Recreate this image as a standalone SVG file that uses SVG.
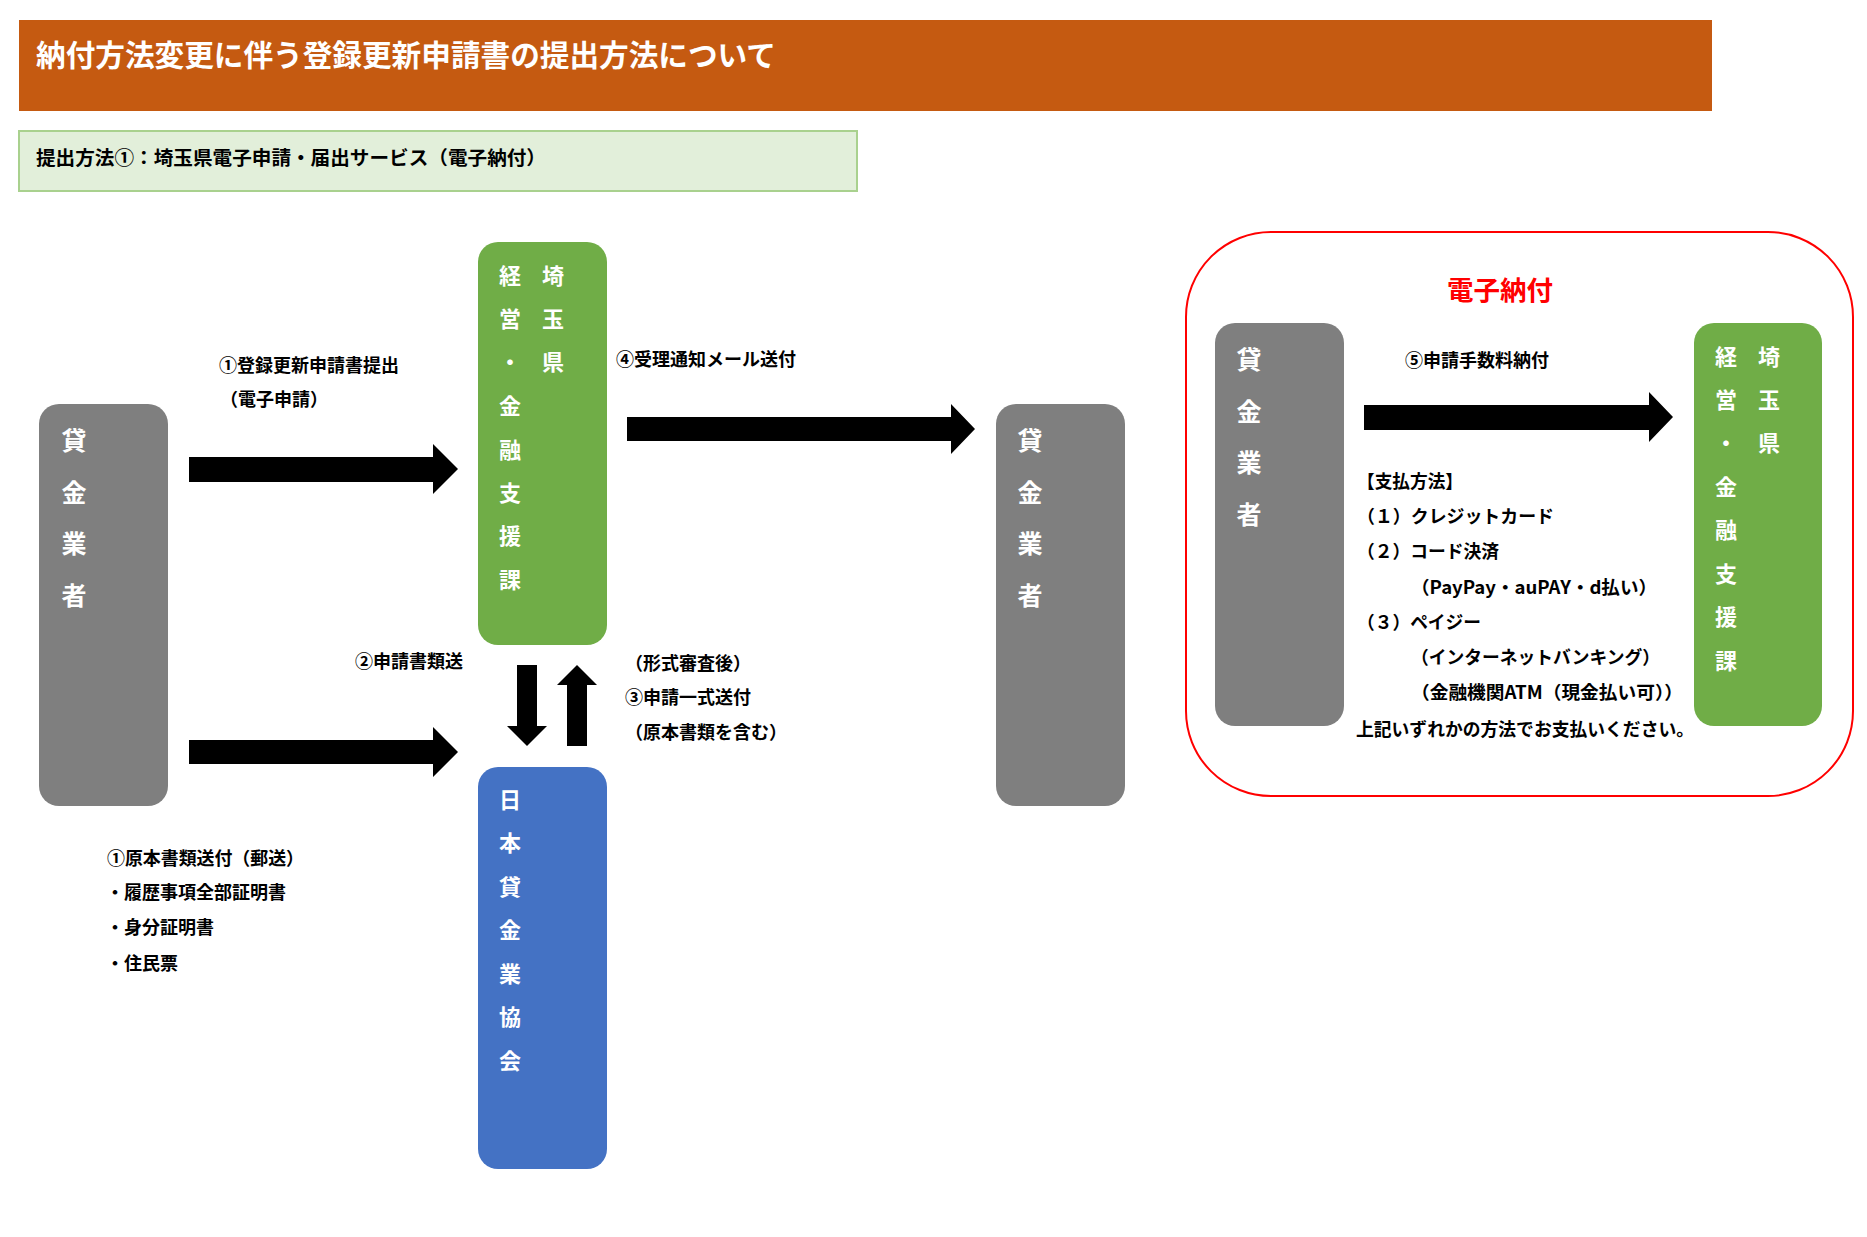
<svg xmlns="http://www.w3.org/2000/svg" width="1867" height="1237" viewBox="0 0 1867 1237">
<style>
text{font-family:"Noto Sans CJK JP","Noto Sans",sans-serif;font-weight:700;dominant-baseline:central}
.lbl{font-size:18px;fill:#000}
.nt{fill:#fff;text-anchor:middle}
.g{font-size:25px}
.s{font-size:22px}
.gray{fill:#7F7F7F}
.green{fill:#70AD47}
.blue{fill:#4472C4}
.arrow{fill:#000}
</style>
<rect width="1867" height="1237" fill="#fff"/>
<g id="title">
<rect x="19" y="20" width="1693" height="91" fill="#C55A11"/>
<text x="36" y="53" style="font-size:30px;fill:#fff" textLength="740" lengthAdjust="spacingAndGlyphs">納付方法変更に伴う登録更新申請書の提出方法について</text>
</g>
<g id="method-header">
<rect x="19" y="131" width="838" height="60" fill="#E2EFDA" stroke="#A9D18E" stroke-width="2"/>
<text x="36" y="156" style="font-size:19px;fill:#000" textLength="510" lengthAdjust="spacingAndGlyphs">提出方法①：埼玉県電子申請・届出サービス（電子納付）</text>
</g>
<g id="node-kashikin-1">
<rect class="gray" x="39" y="404" width="129" height="402" rx="20"/>
<text class="nt g" x="74" y="439">貸</text><text class="nt g" x="74" y="491">金</text><text class="nt g" x="74" y="542">業</text><text class="nt g" x="74" y="594">者</text>
</g>
<g id="node-saitama-1">
<rect class="green" x="478" y="242" width="129" height="403" rx="20"/>
<text class="nt s" x="510" y="274">経</text><text class="nt s" x="510" y="317">営</text><text class="nt s" x="510" y="360">・</text><text class="nt s" x="510" y="404">金</text><text class="nt s" x="510" y="448">融</text><text class="nt s" x="510" y="491">支</text><text class="nt s" x="510" y="534">援</text><text class="nt s" x="510" y="578">課</text>
<text class="nt s" x="553" y="274">埼</text><text class="nt s" x="553" y="317">玉</text><text class="nt s" x="553" y="360">県</text>
</g>
<g id="node-kyokai">
<rect class="blue" x="478" y="767" width="129" height="402" rx="20"/>
<text class="nt s" x="510" y="798">日</text><text class="nt s" x="510" y="841">本</text><text class="nt s" x="510" y="885">貸</text><text class="nt s" x="510" y="928">金</text><text class="nt s" x="510" y="972">業</text><text class="nt s" x="510" y="1015">協</text><text class="nt s" x="510" y="1059">会</text>
</g>
<g id="node-kashikin-2">
<rect class="gray" x="996" y="404" width="129" height="402" rx="20"/>
<text class="nt g" x="1030" y="439">貸</text><text class="nt g" x="1030" y="491">金</text><text class="nt g" x="1030" y="542">業</text><text class="nt g" x="1030" y="594">者</text>
</g>
<g id="e-payment">
<rect x="1186" y="232" width="667" height="564" rx="85" fill="none" stroke="#FF0000" stroke-width="2"/>
<text x="1447" y="288" style="font-size:26px;fill:#FF0000" textLength="106" lengthAdjust="spacingAndGlyphs">電子納付</text>
</g>
<g id="node-kashikin-3">
<rect class="gray" x="1215" y="323" width="129" height="403" rx="20"/>
<text class="nt g" x="1249" y="358">貸</text><text class="nt g" x="1249" y="410">金</text><text class="nt g" x="1249" y="461">業</text><text class="nt g" x="1249" y="513">者</text>
</g>
<g id="node-saitama-2">
<rect class="green" x="1694" y="323" width="128" height="403" rx="20"/>
<text class="nt s" x="1726" y="355">経</text><text class="nt s" x="1726" y="398">営</text><text class="nt s" x="1726" y="441">・</text><text class="nt s" x="1726" y="485">金</text><text class="nt s" x="1726" y="528">融</text><text class="nt s" x="1726" y="572">支</text><text class="nt s" x="1726" y="615">援</text><text class="nt s" x="1726" y="659">課</text>
<text class="nt s" x="1769" y="355">埼</text><text class="nt s" x="1769" y="398">玉</text><text class="nt s" x="1769" y="441">県</text>
</g>
<g id="connectors">
<path class="arrow" d="M189,457 H433 V444 L458,469 L433,494 V482 H189 Z"/>
<path class="arrow" d="M189,740 H433 V727 L458,752 L433,777 V764 H189 Z"/>
<path class="arrow" d="M627,417 H951 V404 L975,429 L951,454 V441 H627 Z"/>
<path class="arrow" d="M1364,405 H1649 V392 L1673,417 L1649,442 V430 H1364 Z"/>
<path class="arrow" d="M517,665 H537 V726 H547 L527,746 L507,726 H517 Z"/>
<path class="arrow" d="M567,746 H587 V685 H597 L577,665 L557,685 H567 Z"/>
</g>
<g id="labels">
<text class="lbl" x="219" y="364" textLength="180" lengthAdjust="spacingAndGlyphs">①登録更新申請書提出</text>
<text class="lbl" x="220" y="398" textLength="108" lengthAdjust="spacingAndGlyphs">（電子申請）</text>
<text class="lbl" x="355" y="660" textLength="108" lengthAdjust="spacingAndGlyphs">②申請書類送</text>
<text class="lbl" x="616" y="358" textLength="180" lengthAdjust="spacingAndGlyphs">④受理通知メール送付</text>
<text class="lbl" x="625" y="662" textLength="126" lengthAdjust="spacingAndGlyphs">（形式審査後）</text>
<text class="lbl" x="625" y="696" textLength="126" lengthAdjust="spacingAndGlyphs">③申請一式送付</text>
<text class="lbl" x="625" y="731" textLength="162" lengthAdjust="spacingAndGlyphs">（原本書類を含む）</text>
<text class="lbl" x="107" y="857" textLength="197" lengthAdjust="spacingAndGlyphs">①原本書類送付（郵送）</text>
<text class="lbl" x="106" y="891" textLength="180" lengthAdjust="spacingAndGlyphs">・履歴事項全部証明書</text>
<text class="lbl" x="106" y="926" textLength="108" lengthAdjust="spacingAndGlyphs">・身分証明書</text>
<text class="lbl" x="106" y="962" textLength="72" lengthAdjust="spacingAndGlyphs">・住民票</text>
<text class="lbl" x="1405" y="359" textLength="144" lengthAdjust="spacingAndGlyphs">⑤申請手数料納付</text>
<text class="lbl" x="1357" y="480" textLength="106" lengthAdjust="spacingAndGlyphs">【支払方法】</text>
<text class="lbl" x="1357" y="515" textLength="197" lengthAdjust="spacingAndGlyphs">（１）クレジットカード</text>
<text class="lbl" x="1357" y="550" textLength="142" lengthAdjust="spacingAndGlyphs">（２）コード決済</text>
<text class="lbl" x="1411" y="586" textLength="246" lengthAdjust="spacingAndGlyphs">（PayPay・auPAY・d払い）</text>
<text class="lbl" x="1357" y="621" textLength="124" lengthAdjust="spacingAndGlyphs">（３）ペイジー</text>
<text class="lbl" x="1411" y="656" textLength="249" lengthAdjust="spacingAndGlyphs">（インターネットバンキング）</text>
<text class="lbl" x="1411" y="691" textLength="272" lengthAdjust="spacingAndGlyphs">（金融機関ATM（現金払い可））</text>
<text class="lbl" x="1356" y="728" textLength="338" lengthAdjust="spacingAndGlyphs">上記いずれかの方法でお支払いください。</text>
</g>
</svg>
